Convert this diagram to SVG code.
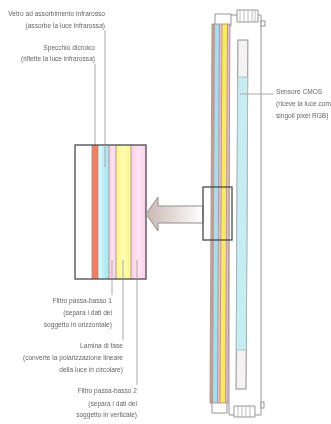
<svg xmlns="http://www.w3.org/2000/svg" width="331" height="424" viewBox="0 0 331 424">
<style>
text{font-family:"Liberation Sans",Arial,sans-serif;font-size:6.6px;fill:#666}
.r{text-anchor:end}
.lead{stroke:#a9a9a9;stroke-width:1;fill:none}
.h{fill:#fff;stroke:#8a8a8a;stroke-width:.9}
.sep{stroke:#a88a86;stroke-width:.8}
.frame{fill:none;stroke:#4a4a4a;stroke-width:1.3}
</style>
<defs>
<linearGradient id="ag" x1="0" x2="1" y1="0" y2="0"><stop offset="0" stop-color="#c9b7b3"/><stop offset="1" stop-color="#fff"/></linearGradient>
<linearGradient id="cy" x1="0" x2="1" y1="0" y2="0"><stop offset="0" stop-color="#e6f8fb"/><stop offset=".6" stop-color="#b5ecf5"/><stop offset="1" stop-color="#a8e6f2"/></linearGradient>
<linearGradient id="ye" x1="0" x2="1" y1="0" y2="0"><stop offset="0" stop-color="#fdf68a"/><stop offset=".5" stop-color="#fefcb0"/><stop offset="1" stop-color="#fdf68a"/></linearGradient>
<linearGradient id="pk" x1="0" x2="1" y1="0" y2="0"><stop offset="0" stop-color="#fbd0ea"/><stop offset=".5" stop-color="#fde3f3"/><stop offset="1" stop-color="#fbd0ea"/></linearGradient>
<filter id="soft" x="-5%" y="-5%" width="110%" height="110%"><feGaussianBlur stdDeviation="0.3"/></filter>
</defs>
<rect width="331" height="424" fill="#fff"/>
<g filter="url(#soft)">
<g id="camera">
<path class="h" d="M229 15H261V415H229Z"/>
<rect class="h" x="261" y="21" width="4" height="5"/>
<rect class="h" x="261" y="402" width="3" height="6"/>
<g transform="translate(1.1 0) skewX(-0.3)">
<rect class="h" x="214" y="14" width="16" height="12"/>
<rect class="h" x="213" y="400" width="15" height="13"/>
<rect class="h" x="236" y="10" width="21" height="12"/>
<path d="M239 10V22M243 10V22M247 10V22M251 10V22M254 10V22" stroke="#a0a0a0" stroke-width=".7"/>
<rect class="h" x="235" y="406" width="21" height="11"/>
<path d="M239 406V417M243 406V417M247 406V417M251 406V417" stroke="#a0a0a0" stroke-width=".7"/>
<rect x="211" y="24" width="2.5" height="379" fill="#c9a294"/>
<rect x="213.500" y="24" width="5" height="379" fill="#a9dcec"/>
<rect x="218.500" y="24" width="2.500" height="379" fill="#e4c4cf"/>
<rect x="221" y="24" width="5.500" height="379" fill="#fbe966"/>
<rect x="226.500" y="24" width="2.500" height="379" fill="#e4c0cc"/>
<path class="sep" d="M211 24V403M213.500 24V403M218.500 24V403M221 24V403M226.500 24V403M229 24V403M211 24H229M211 403H229"/>
<rect x="237" y="40" width="10" height="349" fill="#f4f2f2" stroke="#8f8f8f"/>
<rect x="237" y="77" width="10" height="273" fill="#c7ecf3" stroke="#9fb6ba" stroke-width=".7"/>
</g>
</g>
<g id="connectors">
<path class="lead" d="M105 30V167M95 64V146M112 279V295M123 279V340M137 279V385M240 94H274"/>
</g>
<g id="detail">
<rect x="75" y="145" width="71" height="134" fill="#fff"/>
<rect x="92" y="145" width="6" height="134" fill="#ee7f62"/>
<rect x="98" y="145" width="11" height="134" fill="url(#cy)"/>
<rect x="109" y="145" width="7" height="134" fill="url(#pk)"/>
<rect x="116" y="145" width="15" height="134" fill="url(#ye)"/>
<rect x="131" y="145" width="15" height="134" fill="url(#pk)"/>
<path class="sep" d="M92 145V279M98 145V279M109 145V279M116 145V279M131 145V279"/>
<rect class="frame" x="75" y="145" width="71" height="134"/>
</g>
<path class="lead" d="M105 145V167M112 260V279M123 260V279M137 260V279"/>
<g id="arrow">
<path d="M146 214L158 197V206H203V223H158V231Z" fill="url(#ag)" stroke="#8f8f8f" stroke-width="1"/>
</g>
<g id="zoom-box"><rect class="frame" x="203" y="187" width="29" height="53"/></g>
<g id="label-vetro">
<text class="r" x="105" y="16">Vetro ad assorbimento infrarosso</text>
<text class="r" x="105" y="28">(assorbe la luce infrarossa)</text>
</g>
<g id="label-specchio">
<text class="r" x="95" y="50">Specchio dicroico</text>
<text class="r" x="95" y="61">(riflette la luce infrarossa)</text>
</g>
<g id="label-sensore">
<text x="276" y="94">Sensore CMOS</text>
<text x="276" y="106">(riceve la luce com</text>
<text x="276" y="118">singoli pixel RGB)</text>
</g>
<g id="label-filtro1">
<text class="r" x="112" y="303">Filtro passa-basso 1</text>
<text class="r" x="112" y="315">(separa i dati del</text>
<text class="r" x="112" y="327">soggetto in orizzontale)</text>
</g>
<g id="label-lamina">
<text class="r" x="123" y="348">Lamina di fase</text>
<text class="r" x="123" y="360">(converte la polarizzazione lineare</text>
<text class="r" x="123" y="372">della luce in circolare)</text>
</g>
<g id="label-filtro2">
<text class="r" x="137" y="393">Filtro passa-basso 2</text>
<text class="r" x="137" y="406">(separa i dati del</text>
<text class="r" x="137" y="417">soggetto in verticale)</text>
</g>
</g>
</svg>
